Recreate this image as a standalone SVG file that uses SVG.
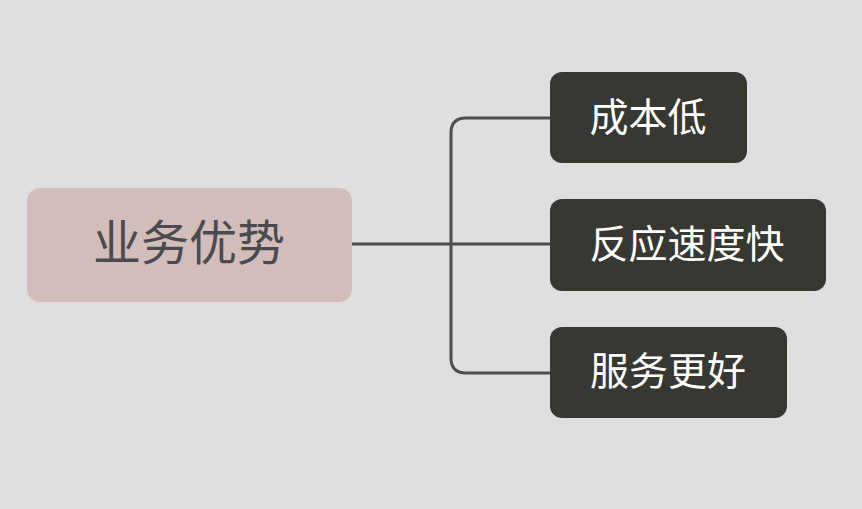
<svg xmlns="http://www.w3.org/2000/svg" width="862" height="509" viewBox="0 0 862 509">
<style>
.conn{fill:none;stroke:#4d4d52;stroke-width:3;}
.child rect{fill:#373832;}
.child text{fill:#ffffff;font-family:"Noto Sans CJK SC","Noto Sans",sans-serif;font-size:39px;text-anchor:middle;}
#root rect{fill:#d3bdbb;}
#root text{fill:#4a4a4f;font-family:"Noto Sans CJK SC","Noto Sans",sans-serif;font-size:48px;text-anchor:middle;}
</style>
<rect x="0" y="0" width="862" height="509" fill="#dfdfdf"/>
<g id="connectors">
<path class="conn" d="M352,244 H550"/>
<path class="conn" d="M550,118 H466 Q451,118 451,133 V358 Q451,373 466,373 H550"/>
</g>
<g id="root">
<rect x="27" y="188" width="325" height="114" rx="13"/>
<text x="189" y="260">业务优势</text>
</g>
<g id="n1" class="child">
<rect x="550" y="72" width="197" height="91" rx="12"/>
<text x="648" y="131">成本低</text>
</g>
<g id="n2" class="child">
<rect x="550" y="199" width="276" height="92" rx="12"/>
<text x="687" y="258">反应速度快</text>
</g>
<g id="n3" class="child">
<rect x="550" y="327" width="237" height="91" rx="12"/>
<text x="668" y="385">服务更好</text>
</g>
</svg>
